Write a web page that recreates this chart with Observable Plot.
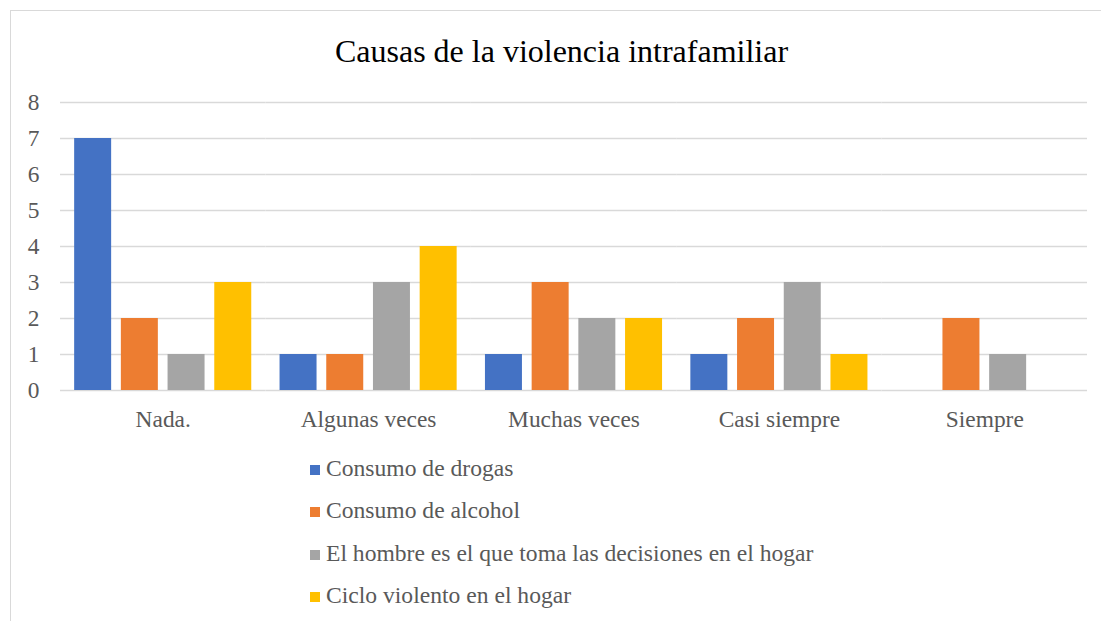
<!DOCTYPE html>
<html><head><meta charset="utf-8">
<script src="https://cdn.jsdelivr.net/npm/d3@7"></script>
<script src="https://cdn.jsdelivr.net/npm/@observablehq/plot@0.6"></script>
<style>
body{margin:0;background:#fff;width:1101px;height:621px;overflow:hidden;position:relative;font-family:"Liberation Serif","Times New Roman",serif;}
#frame{position:absolute;left:10px;top:10px;right:-5px;bottom:-5px;border-left:1px solid #d9d9d9;border-top:1px solid #d9d9d9;}
#title{position:absolute;left:0;width:1123px;top:35px;text-align:center;font-size:32px;line-height:32px;color:#000;}
#chart{position:absolute;left:0;top:80px;}
#legend{position:absolute;left:0;top:0;}
.li{position:absolute;left:310px;height:42px;width:700px;font-size:23.6px;color:#595959;white-space:nowrap;font-family:"Liberation Serif","Times New Roman",serif;}
.li .tx{position:absolute;left:16px;top:0;line-height:42px;}
.li .sw{position:absolute;left:0;top:18px;width:10px;height:10px;}
</style>
</head><body>
<div id="frame"></div>
<div id="title">Causas de la violencia intrafamiliar</div>
<div id="chart"></div>
<div id="legend"></div>
<script>
const categories = ["Nada.", "Algunas veces", "Muchas veces", "Casi siempre", "Siempre"];
const series = ["Consumo de drogas", "Consumo de alcohol", "El hombre es el que toma las decisiones en el hogar", "Ciclo violento en el hogar"];
const colors = ["#4472C4", "#ED7D31", "#A5A5A5", "#FFC000"];
const drogas   = [7, 1, 1, 1, 0];
const alcohol  = [2, 1, 3, 2, 2];
const hombre   = [1, 3, 2, 3, 1];
const ciclo    = [3, 4, 2, 1, 0];
const yTicks = [0, 1, 2, 3, 4, 5, 6, 7, 8];

const seriesValues = [drogas, alcohol, hombre, ciclo];
const data = [];
categories.forEach((c, i) => {
  series.forEach((s, j) => data.push({cat: c, series: s, value: seriesValues[j][i]}));
});

const chart = Plot.plot({
  width: 1101,
  height: 370,
  marginLeft: 60,
  marginRight: 14,
  marginTop: 22,
  marginBottom: 60,
  style: {fontFamily: '"Liberation Serif","Times New Roman",serif', fontSize: "23.4px", color: "#595959", background: "transparent"},
  fx: {domain: categories, padding: 0, round: false, label: null, tickSize: 0, tickPadding: 20},
  x: {domain: series, paddingInner: 0.208, paddingOuter: 0.303, round: false, axis: null},
  y: {domain: [0, 8], ticks: yTicks, label: null, tickSize: 0, tickPadding: 21, tickFormat: d => String(d)},
  color: {domain: series, range: colors},
  marks: [
    Plot.ruleY(yTicks, {stroke: "#d9d9d9", strokeWidth: 1.4}),
    Plot.barY(data, {fx: "cat", x: "series", y: "value", fill: "series"})
  ]
});
document.getElementById("chart").appendChild(chart);

const legend = document.getElementById("legend");
series.forEach((s, i) => {
  const row = document.createElement("div");
  row.className = "li";
  row.style.top = (470 + i * 42.4 - 23) + "px";
  const sw = document.createElement("span");
  sw.className = "sw";
  sw.style.background = colors[i];
  const tx = document.createElement("span");
  tx.className = "tx";
  tx.textContent = s;
  row.appendChild(sw);
  row.appendChild(tx);
  legend.appendChild(row);
});
</script>
</body></html>
